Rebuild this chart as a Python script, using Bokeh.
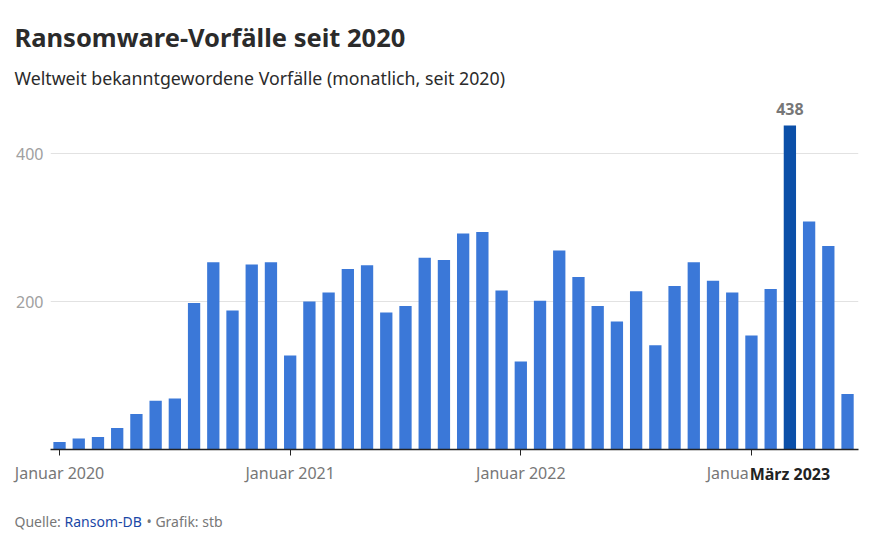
from bokeh.plotting import figure
from bokeh.models import ColumnDataSource, FixedTicker, Label, Range1d
from bokeh.embed import file_html
from bokeh.resources import INLINE

# ---- data ----
months = [
    "2020-01", "2020-02", "2020-03", "2020-04", "2020-05", "2020-06",
    "2020-07", "2020-08", "2020-09", "2020-10", "2020-11", "2020-12",
    "2021-01", "2021-02", "2021-03", "2021-04", "2021-05", "2021-06",
    "2021-07", "2021-08", "2021-09", "2021-10", "2021-11", "2021-12",
    "2022-01", "2022-02", "2022-03", "2022-04", "2022-05", "2022-06",
    "2022-07", "2022-08", "2022-09", "2022-10", "2022-11", "2022-12",
    "2023-01", "2023-02", "2023-03", "2023-04", "2023-05", "2023-06",
]
incidents = [
    10, 15, 17, 29, 48, 66, 69, 198, 253, 188, 250, 253,
    127, 200, 212, 244, 249, 185, 194, 259, 256, 292, 294, 215,
    119, 201, 269, 233, 194, 173, 214, 141, 221, 253, 228, 212,
    154, 217, 438, 308, 275, 75,
]
highlight_month = "2023-03"
highlight_label = "März 2023"
tick_months = ["2020-01", "2021-01", "2022-01", "2023-01"]
tick_labels = ["Januar 2020", "Januar 2021", "Januar 2022", "Januar 2023"]
y_ticks = [200, 400]

title_text = "Ransomware-Vorfälle seit 2020"
subtitle_text = "Weltweit bekanntgewordene Vorfälle (monatlich, seit 2020)"
source_prefix = "Quelle:"
source_name = "Ransom-DB"
credit_text = "• Grafik: stb"

FONT = "Noto Sans"
BAR = "#3b78d8"
BAR_HI = "#0b4fa8"

idx = list(range(len(months)))
hi = months.index(highlight_month)
colors = [BAR_HI if m == highlight_month else BAR for m in months]
src = ColumnDataSource(dict(x=idx, top=incidents, color=colors))

W, H = 873, 551
FL, FR, FT, FB = 50, 858, 98, 449  # frame edges in canvas px
X0, X1 = -0.47, 41.57
PX_PER_UNIT = 0.74
Y1 = (FB - FT) / PX_PER_UNIT

p = figure(width=W, height=H, output_backend="svg", toolbar_location=None,
           x_range=Range1d(X0, X1), y_range=Range1d(0, Y1),
           min_border_left=FL, min_border_right=W - FR,
           min_border_top=FT, min_border_bottom=H - FB)
p.outline_line_color = None
p.background_fill_color = "white"
p.border_fill_color = "white"

p.vbar(x="x", top="top", width=0.64, color="color", line_color=None, source=src)

# y axis
p.yaxis.ticker = FixedTicker(ticks=y_ticks)
p.yaxis.axis_line_color = None
p.yaxis.major_tick_line_color = None
p.yaxis.major_tick_out = 0
p.yaxis.major_tick_in = 0
p.yaxis.minor_tick_line_color = None
p.yaxis.major_label_text_color = "#a0a0a0"
p.yaxis.major_label_text_font = FONT
p.yaxis.major_label_text_font_size = "16px"
p.yaxis.major_label_standoff = 7
p.ygrid.grid_line_color = "#e2e2e2"
p.ygrid.grid_line_width = 1
p.xgrid.grid_line_color = None

# x axis
tick_pos = [months.index(m) for m in tick_months]
p.xaxis.ticker = FixedTicker(ticks=tick_pos)
p.xaxis.major_label_overrides = {t: l for t, l in zip(tick_pos, tick_labels)}
p.xaxis.axis_line_color = "#222222"
p.xaxis.axis_line_width = 1.5
p.xaxis.major_tick_line_color = "#222222"
p.xaxis.major_tick_in = 0
p.xaxis.major_tick_out = 6
p.xaxis.minor_tick_line_color = None
p.xaxis.major_label_text_color = "#777777"
p.xaxis.major_label_text_font = FONT
p.xaxis.major_label_text_font_size = "16px"
p.xaxis.major_label_standoff = 6


def dx(px):
    """canvas x pixel -> data x"""
    return X0 + (px - FL) * (X1 - X0) / (FR - FL)


def dy(py):
    """canvas y pixel -> data y"""
    return (FB - py) / PX_PER_UNIT


def side_label(place, x, y, text, size, color, bold=False, align="left", bg=None):
    kw = {}
    if bg is not None:
        kw = dict(background_fill_color=bg, background_fill_alpha=1.0)
    p.add_layout(Label(x=x, y=y, text=text, text_align=align, text_baseline="middle",
                       text_font=FONT, text_font_size=size, text_color=color,
                       text_font_style="bold" if bold else "normal", **kw), place)


# highlighted month label on the axis (covers part of "Januar 2023")
side_label("below", hi, dy(473), highlight_label, "16px", "#222222", bold=True,
           align="center", bg="white")
# footer
side_label("below", dx(64), dy(521), source_name, "14px", "#1a47a6")
side_label("below", dx(146), dy(521), credit_text, "14px", "#777777")
# title / subtitle
side_label("above", dx(14), dy(77), subtitle_text, "17.75px", "#2b2b2b")
side_label("above", dx(14), dy(36), title_text, "25.5px", "#2b2b2b", bold=True)
side_label("above", dx(14), dy(521), source_prefix, "14px", "#777777")

# value label on highlighted bar
p.add_layout(Label(x=hi, y=incidents[hi], y_offset=10, text=str(incidents[hi]),
                   text_align="center", text_baseline="bottom",
                   text_font=FONT, text_font_style="bold", text_font_size="16px",
                   text_color="#777777"))

open("out.html", "w").write(file_html(p, INLINE))
